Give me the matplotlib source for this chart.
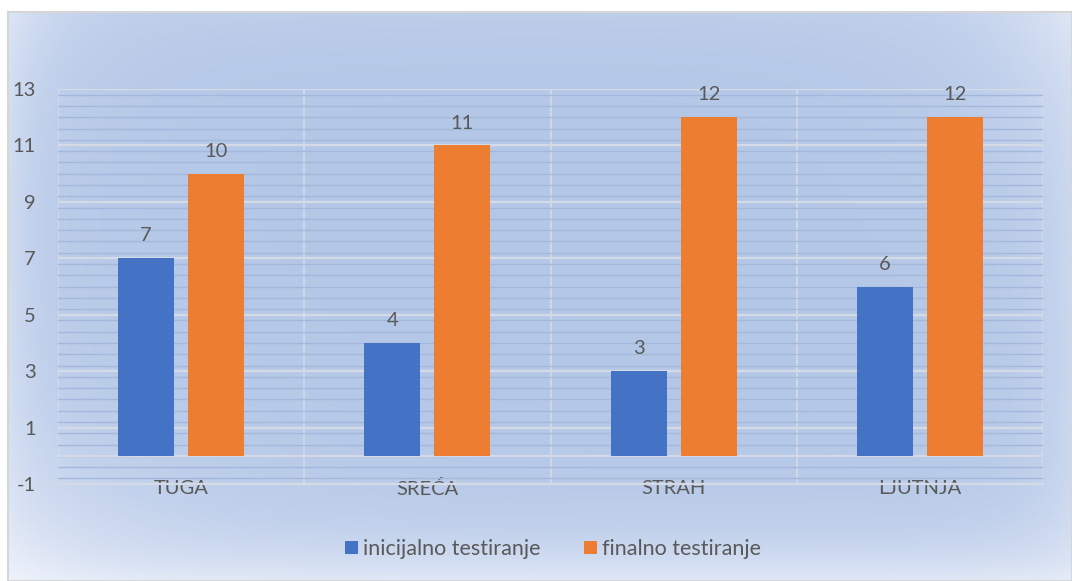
import numpy as np
import matplotlib
matplotlib.use("Agg")
import matplotlib.pyplot as plt
from matplotlib.patches import Rectangle
from matplotlib.ticker import MultipleLocator

categories = ["TUGA", "SREĆA", "STRAH", "LJUTNJA"]
inicijalno = [7, 4, 3, 6]
finalno = [10, 11, 12, 12]
series_names = ["inicijalno testiranje", "finalno testiranje"]
yticks = [-1, 1, 3, 5, 7, 9, 11, 13]

plt.rcParams['font.family'] = ['Lato', 'DejaVu Sans']
plt.rcParams['axes.unicode_minus'] = False
W, H = 1072, 581
fig = plt.figure(figsize=(W / 100, H / 100), dpi=100, facecolor='white')

# background gradient chart area
bx0, by0, bx1, by1 = 8, 12, W, H
bw_px, bh_px = bx1 - bx0, by1 - by0
bg = fig.add_axes([bx0 / W, 0, bw_px / W, bh_px / H], zorder=0)
yy, xx = np.mgrid[0:bh_px, 0:bw_px].astype(float)  # yy=0 top
center = np.array([0xb4, 0xc7, 0xe7]) / 255.0
edge = np.array([0xf2, 0xf5, 0xfc]) / 255.0
fl = 0.45 * np.exp(-xx / 30.0)
fr = 0.35 * np.exp(-(bw_px - xx) / 45.0)
fb = 0.75 * np.exp(-(bh_px - yy) / 45.0)
ft = 0.15 * np.exp(-yy / 40.0)
t = 1 - (1 - fl) * (1 - fr) * (1 - fb) * (1 - ft)
dbl = np.sqrt(xx ** 2 + (bh_px - yy) ** 2)
dtr = np.sqrt((bw_px - xx) ** 2 + yy ** 2)
dtl = np.sqrt(xx ** 2 + yy ** 2)
t = 1 - (1 - t) * (1 - 0.6 * np.exp(-dbl / 120.0)) * (1 - 0.45 * np.exp(-dtr / 90.0)) \
    * (1 - 0.3 * np.exp(-dtl / 80.0))
t = np.clip(t, 0, 1)
img = center[None, None, :] * (1 - t[..., None]) + edge[None, None, :] * t[..., None]
bg.imshow(img, aspect='auto', extent=[0, 1, 0, 1], origin='upper')
bg.set_xlim(0, 1)
bg.set_ylim(0, 1)
bg.axis('off')
fig.add_artist(Rectangle((bx0 / W, 0), bw_px / W, bh_px / H,
                         transform=fig.transFigure, fill=False,
                         edgecolor='#d6d6d6', linewidth=1.5, zorder=1))

# plot area
px0, px1, py0, py1 = 58, 1043, 89, 484
ax = fig.add_axes([px0 / W, (H - py1) / H, (px1 - px0) / W, (py1 - py0) / H], zorder=2)
ax.set_facecolor('none')
ax.set_ylim(-1, 13)
ax.set_xlim(-0.5, len(categories) - 0.5)
ax.set_yticks(yticks)
ax.yaxis.set_minor_locator(MultipleLocator(0.4))
ax.grid(axis='y', which='minor', color='#a3b8dc', linewidth=1.0, zorder=0)
ax.grid(axis='y', which='major', color='#d5dbe6', linewidth=1.6, zorder=0.5)
ax.set_axisbelow(True)
line_c = '#d5dbe6'
for b in np.arange(-0.5, len(categories) + 0.5, 1.0):
    ax.axvline(b, color=line_c, linewidth=1.2, zorder=0.5)
ax.axhline(0, color=line_c, linewidth=1.6, zorder=0.6)
ax.axhline(-1, color=line_c, linewidth=1.6, zorder=0.6, clip_on=False)
for s in ['left', 'right', 'bottom', 'top']:
    ax.spines[s].set_visible(False)

x = np.arange(len(categories))
bw = 0.228
off = 0.142
b1 = ax.bar(x - off, inicijalno, bw, color='#4472c4', zorder=3, label=series_names[0])
b2 = ax.bar(x + off, finalno, bw, color='#ed7d31', zorder=3, label=series_names[1])
for bars, vals in ((b1, inicijalno), (b2, finalno)):
    for r, v in zip(bars, vals):
        ax.annotate(str(v), (r.get_x() + r.get_width() / 2, v), xytext=(0, 10),
                    textcoords='offset points', ha='center', va='bottom',
                    fontsize=14.5, color='#595959', zorder=4)

ax.set_xticks(x)
ax.set_xticklabels(categories)
ax.tick_params(axis='both', which='both', length=0, labelsize=14.5, labelcolor='#595959')
ax.tick_params(axis='y', pad=16)
ax.tick_params(axis='x', pad=-3)

leg = fig.legend(handles=[b1, b2], labels=series_names, loc='center',
                 bbox_to_anchor=(553 / W, (H - 549) / H), ncol=2, frameon=False,
                 fontsize=15.5, handlelength=0.6, handleheight=0.6,
                 handletextpad=0.25, columnspacing=2.0, labelcolor='#595959')

fig.savefig('out.png', dpi=100, facecolor='white')
